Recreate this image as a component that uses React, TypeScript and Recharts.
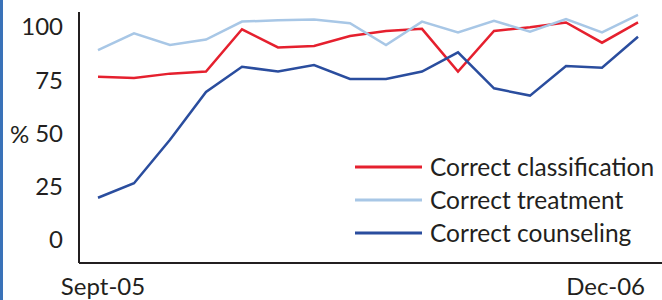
import React from 'react';
import { LineChart, Line, XAxis, YAxis, Legend } from 'recharts';

const months = ['Sept-05', 'Oct-05', 'Nov-05', 'Dec-05', 'Jan-06', 'Feb-06', 'Mar-06', 'Apr-06', 'May-06', 'Jun-06', 'Jul-06', 'Aug-06', 'Sep-06', 'Oct-06', 'Nov-06', 'Dec-06'];
const classification = [76.5, 76, 78, 79, 98.8, 90.3, 91, 95.6, 98, 99, 79, 98, 99.7, 102, 92.5, 102];
const treatment = [89, 96.9, 91.4, 94, 102.4, 103, 103.4, 101.6, 91.4, 102.4, 97.3, 102.8, 97.7, 103.6, 97.3, 105.5];
const counseling = [19.8, 26.6, 47, 69.4, 81.2, 79, 82, 75.5, 75.5, 79, 88, 71.1, 67.7, 81.6, 80.8, 95.3];
const seriesNames = ['Correct classification', 'Correct treatment', 'Correct counseling'];
const yTicks = [0, 25, 50, 75, 100];
const xTicks = ['Sept-05', 'Dec-06'];

const data = months.map((m, i) => ({
  month: m,
  classification: classification[i],
  treatment: treatment[i],
  counseling: counseling[i],
}));

const FONT = 'Lato, "Open Sans", sans-serif';
const TEXT = '#231f20';

const XTick = (props: any) => {
  const { x, y, payload } = props;
  const last = payload.value === xTicks[xTicks.length - 1];
  return (
    <text
      x={last ? x + 7 : x + 5}
      y={y}
      dy="0.71em"
      textAnchor={last ? 'end' : 'middle'}
      fontFamily={FONT}
      fontSize={24}
      fill={TEXT}
    >
      {payload.value}
    </text>
  );
};

const renderLegend = (props: any) => {
  const payload = [...(props.payload || [])].sort(
    (a: any, b: any) => seriesNames.indexOf(a.value) - seriesNames.indexOf(b.value)
  );
  return (
    <div style={{ fontFamily: FONT, fontSize: 24.5, color: TEXT }}>
      {payload.map((entry: any, i: number) => (
        <div key={i} style={{ display: 'flex', alignItems: 'center', height: 33 }}>
          <svg width={75} height={10} style={{ display: 'block' }}>
            <line x1={0} y1={5} x2={67} y2={5} stroke={entry.color} strokeWidth={3} />
          </svg>
          <span style={{ lineHeight: '24px' }}>{entry.value}</span>
        </div>
      ))}
    </div>
  );
};

export default function App() {
  return (
    <div style={{ position: 'fixed', left: 0, top: 0, width: 662, height: 300, background: '#fff' }}>
      <LineChart
        width={662}
        height={300}
        data={data}
        margin={{ top: 12, right: 0, bottom: 7, left: 0 }}
      >
        <XAxis
          dataKey="month"
          ticks={xTicks}
          interval={0}
          tick={<XTick />}
          tickLine={false}
          tickSize={0}
          tickMargin={15}
          height={30}
          padding={{ left: 19, right: 24 }}
          axisLine={{ stroke: '#231f20', strokeWidth: 2 }}
        />
        <YAxis
          width={79}
          domain={[-10.8, 106.9]}
          ticks={yTicks}
          allowDataOverflow
          tickLine={false}
          tickSize={0}
          tickMargin={16}
          tick={{ fontFamily: FONT, fontSize: 24, fill: TEXT }}
          axisLine={{ stroke: '#231f20', strokeWidth: 2 }}
          label={{ value: '%', position: 'insideLeft', offset: 10, fontFamily: FONT, fontSize: 24, fill: TEXT, dy: -3 }}
        />
        <Legend
          layout="vertical"
          align="center"
          verticalAlign="middle"
          content={renderLegend}
          wrapperStyle={{ left: 355, top: 150, width: 310 }}
        />
        <Line name={seriesNames[0]} dataKey="classification" stroke="#e5202e" strokeWidth={2.5} dot={false} isAnimationActive={false} />
        <Line name={seriesNames[1]} dataKey="treatment" stroke="#a8c7e6" strokeWidth={2.5} dot={false} isAnimationActive={false} />
        <Line name={seriesNames[2]} dataKey="counseling" stroke="#2a4d9e" strokeWidth={2.5} dot={false} isAnimationActive={false} />
      </LineChart>
      <div style={{ position: 'absolute', left: 0, top: 0, width: 3, height: 300, background: '#3a72b8' }} />
    </div>
  );
}
